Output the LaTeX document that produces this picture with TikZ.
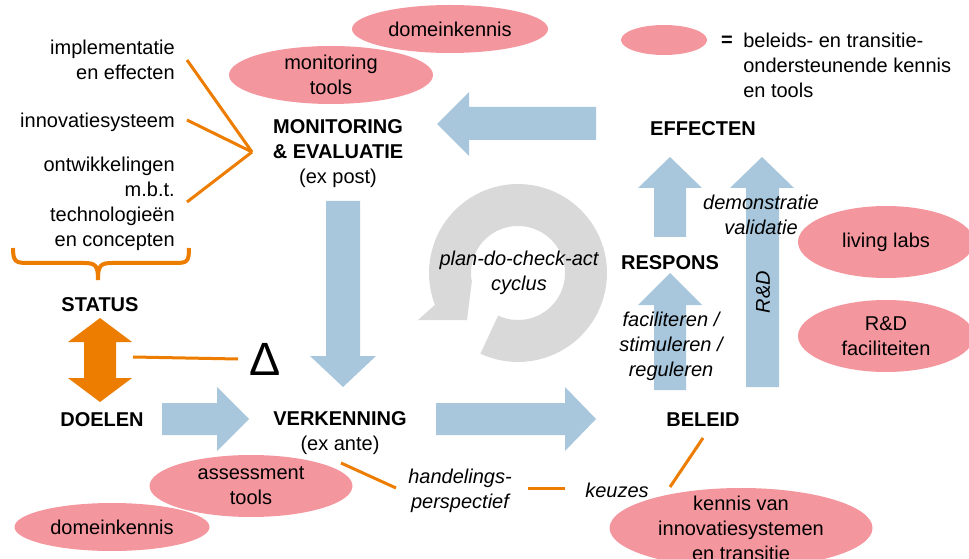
\documentclass[tikz,border=0pt]{standalone}
\usepackage{fontspec}
\setmainfont{Liberation Sans}
\usetikzlibrary{shapes.geometric}
\definecolor{blu}{RGB}{168,199,220}
\definecolor{pnk}{RGB}{244,150,158}
\definecolor{org}{RGB}{236,125,0}
\definecolor{gry}{RGB}{217,217,217}
\begin{document}
\begin{tikzpicture}[x=0.75pt,y=-0.75pt,
  txt/.style={inner sep=0pt, align=center, font=\fontsize{15}{18.75}\selectfont},
  bold/.style={txt, font=\fontsize{15}{18.75}\selectfont\bfseries},
  ital/.style={txt, font=\fontsize{15}{18.75}\selectfont\itshape},
  pill/.style={txt, ellipse, fill=pnk, inner sep=-4pt},
  barrow/.style={fill=blu},
  oline/.style={draw=org, line width=2.25pt},
]
\useasboundingbox (0,0) rectangle (969,559);
\clip (0,0) rectangle (969,559);

% gray cycle
\fill[gry] plot[domain=115:-201, samples=90] ({518+89*cos(\x)},{273+89*sin(\x)})
  -- (418,320) -- (467,320) -- (472,280)
  -- plot[domain=-188:115, samples=90] ({518+47*cos(\x)},{273+47*sin(\x)}) -- cycle;

% pink ellipses
\node[pill, minimum width=147pt, minimum height=36pt] (dk1) at (450,29) {domeinkennis};
\node[pill, minimum width=153pt, minimum height=43.5pt] (mt) at (331,75) {monitoring\\tools};
\node[pill, minimum width=64.5pt, minimum height=22.5pt] (leg) at (664,40) {};
\node[pill, minimum width=132pt, minimum height=54pt] (ll) at (886,242) {living labs};
\node[pill, minimum width=132pt, minimum height=54pt] (rdf) at (886,336) {R\&D\\faciliteiten};
\node[pill, minimum width=197.25pt, minimum height=60pt, inner sep=-8pt] (kn) at (741,528) {kennis van\\innovatiesystemen\\en transitie};
\node[pill, minimum width=152.25pt, minimum height=46.5pt] (at) at (251,486) {assessment\\tools};
\node[pill, minimum width=146.25pt, minimum height=36pt] (dk2) at (112,527) {domeinkennis};

% blue block arrows
\fill[barrow] (596,107) -- (469,107) -- (469,92) -- (437,124) -- (469,156) -- (469,140) -- (596,140) -- cycle;
\fill[barrow] (326,201) -- (360,201) -- (360,356) -- (376,356) -- (343,387) -- (310,356) -- (326,356) -- cycle;
\fill[barrow] (162,403) -- (217,403) -- (217,387) -- (249,419) -- (217,451) -- (217,435) -- (162,435) -- cycle;
\fill[barrow] (436,403) -- (565,403) -- (565,387) -- (596,419) -- (565,451) -- (565,435) -- (436,435) -- cycle;
\fill[barrow] (654,390) -- (654,305) -- (638,305) -- (670,273) -- (702,305) -- (686,305) -- (686,390) -- cycle;
\fill[barrow] (654,237) -- (654,188) -- (638,188) -- (670,157) -- (702,188) -- (686,188) -- (686,237) -- cycle;
\fill[barrow] (746,387) -- (746,188) -- (730,188) -- (762,157) -- (794,188) -- (779,188) -- (779,387) -- cycle;

% orange double arrow
\fill[org] (100,318) -- (132,342) -- (116,342) -- (116,378) -- (132,378) -- (100,402) -- (68,378) -- (84,378) -- (84,342) -- (68,342) -- cycle;

% brace
\draw[org, line width=3pt] (13,248) .. controls (13,262) and (16,263) .. (28,263) -- (84,263)
  .. controls (96,263) and (98,266) .. (98,280)
  .. controls (98,266) and (100,263) .. (112,263) -- (175,263)
  .. controls (187,263) and (189,262) .. (189,248);

% text nodes
\node[txt, align=right, anchor=east] (impl) at (175,60) {implementatie\\en effecten};
\node[txt, anchor=east] (innov) at (175,122) {innovatiesysteem};
\node[txt, align=right, anchor=east] (ontw) at (175,204) {ontwikkelingen\\m.b.t.\\technologieën\\en concepten};
\node[bold] (status) at (100,305) {STATUS};
\node[bold] (doelen) at (102,420) {DOELEN};
\node[txt] (mon) at (338,154) {\textbf{MONITORING}\\\textbf{\& EVALUATIE}\\(ex post)};
\node[txt] (verk) at (340,433) {\textbf{VERKENNING}\\(ex ante)};
\node[bold] (eff) at (703,129) {EFFECTEN};
\node[bold] (resp) at (670,263) {RESPONS};
\node[bold] (bel) at (703,420) {BELEID};
\node[ital] (pdca) at (519,273) {plan-do-check-act\\cyclus};
\node[ital] (fsr) at (671,346) {faciliteren /\\stimuleren /\\reguleren};
\node[ital] (demo) at (761,215) {demonstratie\\validatie};
\node[ital, rotate=90] (rd) at (763,292) {R\&D};
\node[ital] (hand) at (460,491) {handelings-\\perspectief};
\node[ital] (keu) at (617,490) {keuzes};
\node[txt, font=\fontsize{35}{40}\selectfont] (delta) at (265,359) {Δ};
\node[bold] (eq) at (727,41) {=};
\node[txt, align=left, anchor=west] (legt) at (743,65) {beleids- en transitie-\\ondersteunende kennis\\en tools};

% orange connectors
\coordinate (hub) at (252,152);
\coordinate (c1) at (187,60);
\coordinate (c2) at (187,120);
\coordinate (c3) at (187,202);
\coordinate (d1) at (133,357);
\coordinate (d2) at (238,359);
\coordinate (v1) at (341,463);
\coordinate (h1) at (396,488);
\coordinate (h2) at (528,488);
\coordinate (k1) at (565,488);
\coordinate (b1) at (703,438);
\coordinate (b2) at (670,487);
\draw[oline] (c1) -- (hub);
\draw[oline] (c2) -- (hub);
\draw[oline] (c3) -- (hub);
\draw[oline] (d1) -- (d2);
\draw[oline] (v1) -- (h1);
\draw[oline] (h2) -- (k1);
\draw[oline] (b1) -- (b2);
\end{tikzpicture}
\end{document}
